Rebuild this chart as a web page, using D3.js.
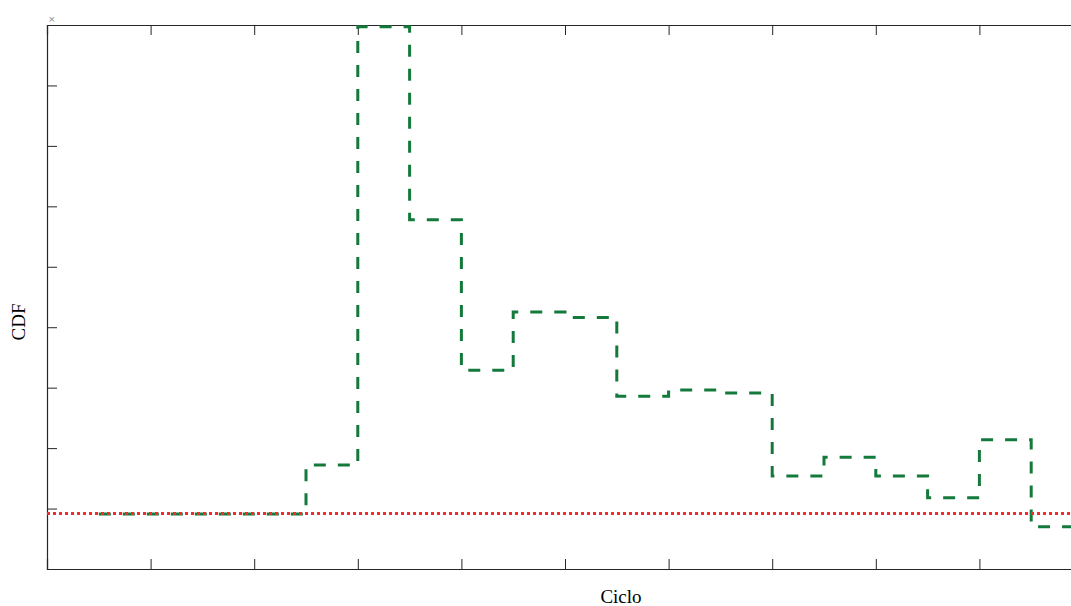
<!DOCTYPE html>
<html>
<head>
<meta charset="utf-8">
<script src="https://cdn.jsdelivr.net/npm/d3@7"></script>
<style>
  html, body { margin: 0; padding: 0; background: #fff; }
  svg { display: block; }
</style>
</head>
<body>
<svg id="chart" width="1071" height="606"></svg>
<script>
// Cycle index at the start of each bin and the CDF value held over that bin
const cycles = [1, 2, 3, 4, 5, 6, 7, 8, 9, 10, 11, 12, 13, 14, 15, 16, 17, 18, 19];
const cdfValues = [0.91, 0.91, 0.91, 0.91, 1.72, 8.97, 5.78, 3.29, 4.25, 4.16,
                   2.86, 2.96, 2.91, 1.54, 1.85, 1.54, 1.18, 2.14, 0.70];
const lastCycleEnd = 20;
const referenceLevel = 0.92;
const xTicks = [0, 2, 4, 6, 8, 10, 12, 14, 16, 18, 20];
const yTicks = [0, 1, 2, 3, 4, 5, 6, 7, 8, 9];

const svg = d3.select("#chart");
const plotLeft = 47, plotTop = 25, plotBottom = 569, plotRight = 1083;

const x = d3.scaleLinear().domain([0, 20]).range([plotLeft, plotRight]);
const y = d3.scaleLinear().domain([0, 9]).range([plotBottom, plotTop]);

// Axes box with inward ticks and no tick labels
const axisColor = "#262626";
const tickLen = 10;
const g = svg.append("g");

const axBottom = d3.axisBottom(x).tickValues(xTicks).tickSize(-tickLen).tickFormat("");
const axTop = d3.axisTop(x).tickValues(xTicks).tickSize(-tickLen).tickFormat("");
const axLeft = d3.axisLeft(y).tickValues(yTicks).tickSize(-tickLen).tickFormat("");

g.append("g").attr("transform", `translate(0,${plotBottom})`).call(axBottom);
g.append("g").attr("transform", `translate(0,${plotTop})`).call(axTop);
g.append("g").attr("transform", `translate(${plotLeft},0)`).call(axLeft);

g.selectAll(".domain").attr("stroke", axisColor).attr("stroke-width", 1.2);
g.selectAll(".tick line").attr("stroke", axisColor).attr("stroke-width", 1);

// Stepped series
const pts = cycles.map((c, i) => [c, cdfValues[i]]);
pts.push([lastCycleEnd, cdfValues[cdfValues.length - 1]]);

const step = d3.line()
  .x(d => x(d[0]))
  .y(d => y(d[1]))
  .curve(d3.curveStepAfter);

svg.append("path")
  .datum(pts)
  .attr("d", step)
  .attr("fill", "none")
  .attr("stroke", "#147a3c")
  .attr("stroke-width", 3)
  .attr("stroke-dasharray", "12,12");

// Horizontal reference line
svg.append("line")
  .attr("x1", x(0)).attr("x2", x(20))
  .attr("y1", y(referenceLevel)).attr("y2", y(referenceLevel))
  .attr("stroke", "#f52a2a")
  .attr("stroke-width", 3)
  .attr("stroke-dasharray", "3,3");

// Labels
const font = "'Liberation Serif', 'Times New Roman', serif";
svg.append("text")
  .attr("x", 621).attr("y", 603)
  .attr("text-anchor", "middle")
  .style("font-family", font).style("font-size", "19px").attr("fill", "#000")
  .text("Ciclo");

svg.append("text")
  .attr("transform", `translate(25,${(plotTop + plotBottom) / 2 + 25}) rotate(-90)`)
  .attr("text-anchor", "middle")
  .style("font-family", font).style("font-size", "19px").attr("fill", "#000")
  .text("CDF");

svg.append("text")
  .attr("x", 48).attr("y", 22)
  .style("font-family", "'DejaVu Sans', sans-serif").style("font-size", "9px")
  .attr("fill", "#888")
  .text("×");
</script>
</body>
</html>
